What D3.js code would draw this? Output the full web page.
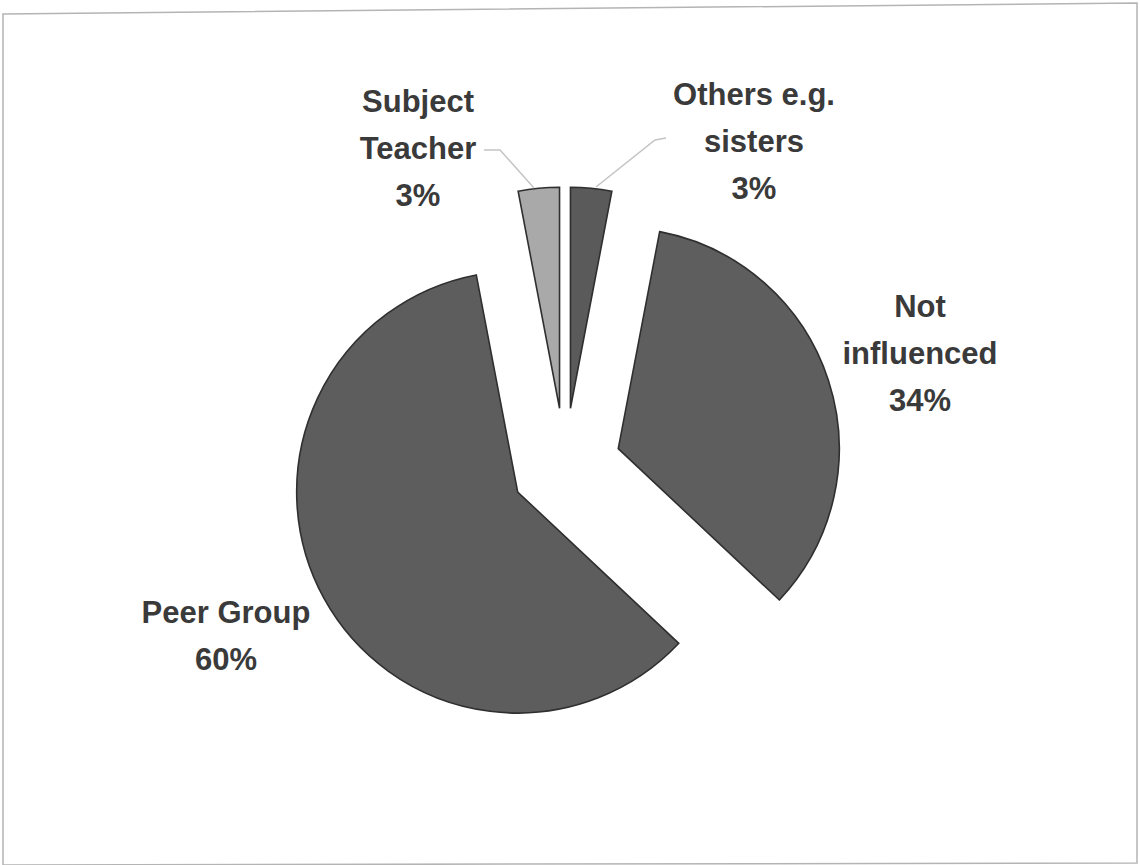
<!DOCTYPE html>
<html>
<head>
<meta charset="utf-8">
<script src="https://cdn.jsdelivr.net/npm/d3@7/dist/d3.min.js"></script>
<style>
  html, body { margin: 0; padding: 0; background: #fff; }
  svg { display: block; }
</style>
</head>
<body>
<svg id="chart" width="1140" height="865"></svg>
<script>
// ---- data ----
const categories = ["Others e.g. sisters", "Not influenced", "Peer Group", "Subject Teacher"];
const values = [3, 34, 60, 3];
const percentLabels = ["3%", "34%", "60%", "3%"];

// ---- layout / style (not data) ----
const cx = 565, cy = 466, radius = 221;
const explodeBy = { "Others e.g. sisters": 58, "Not influenced": 56, "Peer Group": 54, "Subject Teacher": 58 };
const fills = ["#5a5a5a", "#5e5e5e", "#5d5d5d", "#a9a9a9"];
const labelLayout = {
  "Others e.g. sisters": { x: 754, y: 105, lines: ["Others e.g.", "sisters"], leader: [[596, 187], [655, 140], [666, 138]] },
  "Not influenced":      { x: 920, y: 317, lines: ["Not", "influenced"] },
  "Peer Group":          { x: 226, y: 623, lines: ["Peer Group"] },
  "Subject Teacher":     { x: 418, y: 112, lines: ["Subject", "Teacher"], leader: [[534, 188], [500, 150], [484, 150]] }
};
const lineGap = 47;

const svg = d3.select("#chart");

// frame (scanned border)
svg.append("path")
  .attr("d", "M3,14 L1137,3 L1137,863 L3,865 Z")
  .attr("fill", "none")
  .attr("stroke", "#b4b4b4")
  .attr("stroke-width", 1.5);

const data = categories.map((c, i) => ({ name: c, value: values[i], pct: percentLabels[i], fill: fills[i] }));

const pie = d3.pie().sort(null).value(d => d.value).startAngle(0).endAngle(2 * Math.PI);
const arc = d3.arc().innerRadius(0).outerRadius(radius);
const arcs = pie(data);

const g = svg.append("g").attr("transform", `translate(${cx},${cy})`);

// leader lines (drawn beneath slices)
const line = d3.line();
arcs.forEach(a => {
  const L = labelLayout[a.data.name];
  if (L.leader) {
    svg.append("path")
      .attr("d", line(L.leader))
      .attr("fill", "none")
      .attr("stroke", "#c4c4c4")
      .attr("stroke-width", 1.5);
  }
});

g.selectAll("path.slice")
  .data(arcs)
  .join("path")
  .attr("class", "slice")
  .attr("d", arc)
  .attr("transform", d => {
    const mid = (d.startAngle + d.endAngle) / 2;
    const e = explodeBy[d.data.name];
    return `translate(${e * Math.sin(mid)},${-e * Math.cos(mid)})`;
  })
  .attr("fill", d => d.data.fill)
  .attr("stroke", "#2f2f2f")
  .attr("stroke-width", 1.6)
  .attr("stroke-linejoin", "miter");

// labels
arcs.forEach(a => {
  const L = labelLayout[a.data.name];
  const t = svg.append("text")
    .attr("text-anchor", "middle")
    .attr("font-family", "'Liberation Sans', Arial, sans-serif")
    .attr("font-weight", "bold")
    .attr("font-size", 31)
    .attr("fill", "#3a3a3a");
  const lines = L.lines.concat([a.data.pct]);
  lines.forEach((s, i) => {
    t.append("tspan").attr("x", L.x).attr("y", L.y + i * lineGap).text(s);
  });
});
</script>
</body>
</html>
